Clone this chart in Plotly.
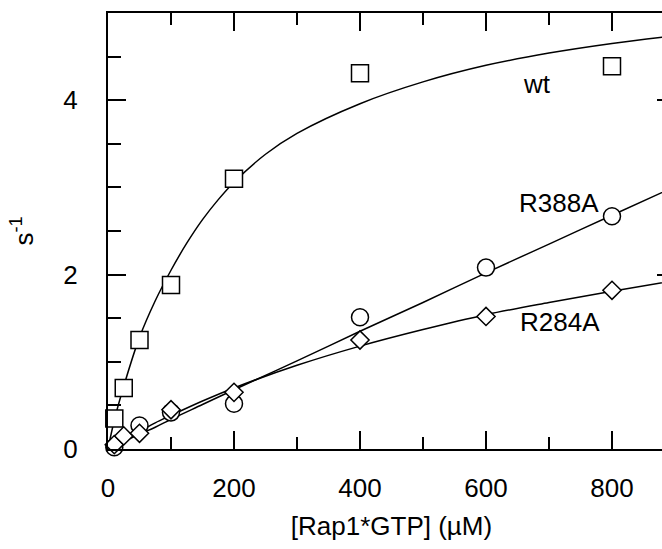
import plotly.graph_objects as go

# ---- data ----
wt_x = [10, 25, 50, 100, 200, 400, 800]
wt_y = [0.35, 0.70, 1.25, 1.88, 3.10, 4.31, 4.39]

r388a_x = [10, 50, 100, 200, 400, 600, 800]
r388a_y = [0.02, 0.27, 0.42, 0.52, 1.51, 2.08, 2.67]

r284a_x = [10, 25, 50, 100, 200, 400, 600, 800]
r284a_y = [0.05, 0.15, 0.18, 0.45, 0.65, 1.25, 1.52, 1.82]

# fitted curves
wt_fit_x = [0, 10, 25, 50, 75, 100, 125, 150, 175, 200, 250, 300, 400, 500, 600, 700, 800, 900]
wt_fit_y = [0, 0.33, 0.72, 1.28, 1.70, 2.05, 2.36, 2.63, 2.86, 3.06, 3.38, 3.62, 3.96, 4.21, 4.40, 4.54, 4.65, 4.74]

fit_x = [0, 10, 25, 50, 75, 100, 150, 200, 300, 400, 500, 600, 700, 800, 900]
r388a_fit = [0, 0.034, 0.085, 0.17, 0.25, 0.34, 0.51, 0.68, 1.01, 1.35, 1.68, 2.02, 2.35, 2.68, 3.01]
r284a_fit = [0, 0.042, 0.10, 0.20, 0.30, 0.385, 0.55, 0.70, 0.96, 1.18, 1.37, 1.54, 1.68, 1.81, 1.93]

labels = ["wt", "R388A", "R284A"]
label_x = [681, 716, 717]
label_y = [4.19, 2.82, 1.46]

FONT = "Liberation Sans, Arial, Helvetica, sans-serif"

fig = go.Figure()
line_style = dict(color="black", width=1.5, shape="spline", smoothing=1.0)
for fx, fy in [(wt_fit_x, wt_fit_y), (fit_x, r388a_fit), (fit_x, r284a_fit)]:
    fig.add_trace(go.Scatter(x=fx, y=fy, mode="lines", line=line_style,
                             hoverinfo="skip", showlegend=False))

mk_line = dict(color="black", width=1.5)
fig.add_trace(go.Scatter(x=r388a_x, y=r388a_y, mode="markers", cliponaxis=False,
                         marker=dict(symbol="circle", size=17, color="white", line=mk_line),
                         showlegend=False))
fig.add_trace(go.Scatter(x=r284a_x, y=r284a_y, mode="markers", cliponaxis=False,
                         marker=dict(symbol="diamond", size=14, color="white", line=mk_line),
                         showlegend=False))
fig.add_trace(go.Scatter(x=wt_x, y=wt_y, mode="markers", cliponaxis=False,
                         marker=dict(symbol="square", size=17, color="white", line=mk_line),
                         showlegend=False))

for t, x, y in zip(labels, label_x, label_y):
    fig.add_annotation(x=x, y=y, text=t, showarrow=False,
                       font=dict(family=FONT, size=26, color="black"))

axis_common = dict(
    showline=True, linecolor="black", linewidth=2, mirror="ticks",
    ticks="inside", tickcolor="black", tickwidth=1.5, ticklen=18,
    showgrid=False, zeroline=False,
    tickfont=dict(family=FONT, size=26, color="black"),
    automargin=False,
)

fig.update_xaxes(**axis_common, range=[0, 900], tickmode="linear", tick0=0, dtick=200,
                 ticklabelstandoff=15,
                 minor=dict(ticks="inside", ticklen=12, tickwidth=1.5, tickcolor="black",
                            dtick=100, tick0=0, showgrid=False),
                 title=dict(text="[Rap1*GTP] (µM)", standoff=15,
                            font=dict(family=FONT, size=26, color="black")))
fig.update_yaxes(**axis_common, range=[0, 5], tickmode="linear", tick0=0, dtick=2,
                 ticklabelstandoff=23,
                 minor=dict(ticks="inside", ticklen=13, tickwidth=1.5, tickcolor="black",
                            dtick=0.5, tick0=0, showgrid=False),
                 title=dict(text="s<sup>-1</sup>", standoff=22,
                            font=dict(family=FONT, size=26, color="black")))

fig.update_layout(
    width=675, height=549,
    margin=dict(l=108, r=0, t=13, b=100, pad=0),
    plot_bgcolor="white", paper_bgcolor="white",
    font=dict(family=FONT, size=26, color="black"),
)

fig.write_html("out.html",
               post_script="document.documentElement.style.overflow='hidden';document.body.style.overflow='hidden';")
